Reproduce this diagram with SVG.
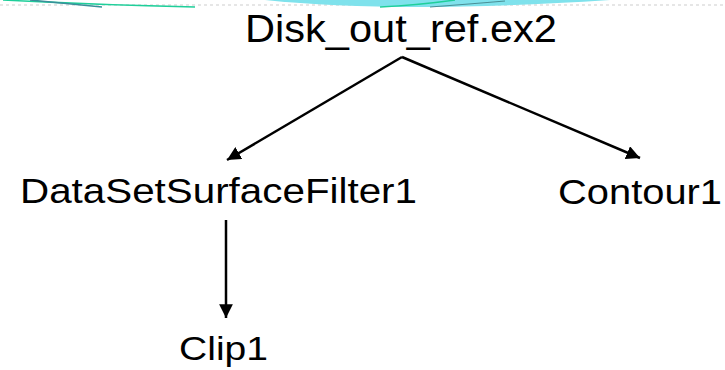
<svg xmlns="http://www.w3.org/2000/svg" width="725" height="370" viewBox="0 0 725 370">
<style>
.lbl{font-family:"Liberation Sans",Arial,sans-serif;fill:#000;}
.edge{stroke:#000;stroke-width:2.5;fill:none;}
</style>
<defs>
<marker id="ah" viewBox="0 0 10 10" refX="10" refY="5" markerWidth="5.5" markerHeight="5.5" markerUnits="strokeWidth" orient="auto">
<path d="M0,0 L10,5 L0,10 Z" fill="#000"/>
</marker>
</defs>
<rect width="725" height="370" fill="#fff"/>
<g id="banner">
<line x1="0" y1="5" x2="725" y2="5" stroke="#e6e6e6" stroke-width="2" stroke-dasharray="3,3"/>
<path d="M265,0 Q400,14 610,0 Z" fill="#7fe2ec"/>
<path d="M3,0 Q100,5 195,7" stroke="#1fcf9a" stroke-width="1.5" fill="none"/>
<path d="M30,0 Q70,4 102,7" stroke="#3a8f9a" stroke-width="1.5" fill="none"/>
<path d="M380,7 Q420,5 455,0" stroke="#1fcf9a" stroke-width="1.5" fill="none"/>
<path d="M430,7 Q470,4 505,1" stroke="#4a8f96" stroke-width="1.2" fill="none"/>
</g>
<g id="connectors">
<line class="edge" x1="402" y1="57" x2="227" y2="160" marker-end="url(#ah)"/>
<line class="edge" x1="402" y1="57" x2="640" y2="158" marker-end="url(#ah)"/>
<line class="edge" x1="226" y1="220" x2="226" y2="318" marker-end="url(#ah)"/>
</g>
<g id="node-disk"><text class="lbl" x="245" y="42" font-size="38" textLength="312" lengthAdjust="spacingAndGlyphs">Disk_out_ref.ex2</text></g>
<g id="node-dssf"><text class="lbl" x="20" y="203" font-size="35" textLength="397" lengthAdjust="spacingAndGlyphs">DataSetSurfaceFilter1</text></g>
<g id="node-contour"><text class="lbl" x="558" y="204" font-size="35" textLength="164" lengthAdjust="spacingAndGlyphs">Contour1</text></g>
<g id="node-clip"><text class="lbl" x="179" y="360" font-size="34" textLength="89" lengthAdjust="spacingAndGlyphs">Clip1</text></g>
</svg>
